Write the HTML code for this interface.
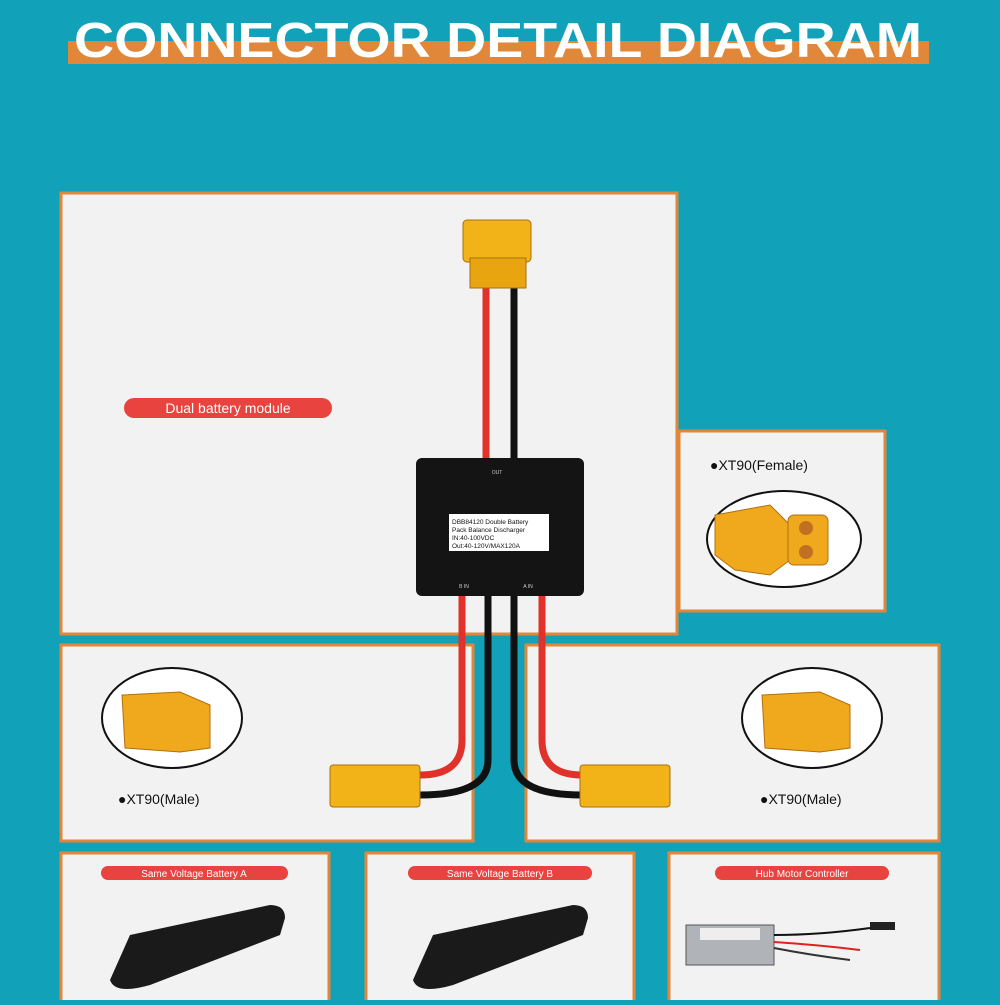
<!DOCTYPE html>
<html><head><style>
body{margin:0;width:1000px;height:1000px;overflow:hidden;background:#11a1b8;font-family:"Liberation Sans",sans-serif}
</style></head><body>
<svg width="1000" height="1000" viewBox="0 0 1000 1000" xmlns="http://www.w3.org/2000/svg">
<rect width="1000" height="1000" fill="#11a1b8"/>
<rect x="68" y="41" width="861" height="23" fill="#e0873a"/>
<text x="498" y="57" text-anchor="middle" font-family="Liberation Sans Narrow, Liberation Sans, sans-serif" font-weight="bold" font-size="49" fill="#fff" textLength="848" lengthAdjust="spacingAndGlyphs">CONNECTOR DETAIL DIAGRAM</text>
<g fill="#f2f2f2" stroke="#e0873a" stroke-width="3">
<rect x="61" y="193" width="616" height="441"/>
<rect x="679" y="431" width="206" height="180"/>
<rect x="61" y="645" width="412" height="196"/>
<rect x="526" y="645" width="413" height="196"/>
<rect x="61" y="853" width="268" height="150"/>
<rect x="366" y="853" width="268" height="150"/>
<rect x="669" y="853" width="270" height="150"/>
</g>
<!-- labels -->
<rect x="124" y="398" width="208" height="20" rx="10" fill="#e8433f"/>
<text x="228" y="413" text-anchor="middle" font-size="14" fill="#fff">Dual battery module</text>
<rect x="101" y="866" width="187" height="14" rx="7" fill="#e8433f"/>
<text x="194" y="877" text-anchor="middle" font-size="10" fill="#fff">Same Voltage Battery A</text>
<rect x="408" y="866" width="184" height="14" rx="7" fill="#e8433f"/>
<text x="500" y="877" text-anchor="middle" font-size="10" fill="#fff">Same Voltage Battery B</text>
<rect x="715" y="866" width="174" height="14" rx="7" fill="#e8433f"/>
<text x="802" y="877" text-anchor="middle" font-size="10" fill="#fff">Hub Motor Controller</text>
<text x="710" y="470" font-size="14" fill="#111">●XT90(Female)</text>
<text x="118" y="804" font-size="14" fill="#111">●XT90(Male)</text>
<text x="760" y="804" font-size="14" fill="#111">●XT90(Male)</text>
<!-- circles -->
<g fill="#fff" stroke="#111" stroke-width="2">
<ellipse cx="784" cy="539" rx="77" ry="48"/>
<ellipse cx="172" cy="718" rx="70" ry="50"/>
<ellipse cx="812" cy="718" rx="70" ry="50"/>
</g>
<g fill="#f0a81c" stroke="#b07010" stroke-width="1">
<path d="M715 515 L770 505 L790 525 L790 560 L770 575 L735 570 L715 555Z"/>
<rect x="788" y="515" width="40" height="50" rx="6"/>
<path d="M122 695 L180 692 L210 705 L210 748 L180 752 L125 748Z"/>
<path d="M762 695 L820 692 L850 705 L850 748 L820 752 L765 748Z"/>
</g>
<circle cx="806" cy="528" r="7" fill="#c07020"/><circle cx="806" cy="552" r="7" fill="#c07020"/>
<!-- wires -->
<g fill="none" stroke-width="7">
<path d="M486 280 V460" stroke="#e0312a"/>
<path d="M514 280 V460" stroke="#111"/>
<path d="M462 595 V740 Q462 775 420 775" stroke="#e0312a"/>
<path d="M488 595 V760 Q488 795 420 795" stroke="#111"/>
<path d="M514 595 V760 Q514 795 582 795" stroke="#111"/>
<path d="M542 595 V740 Q542 775 582 775" stroke="#e0312a"/>
</g>
<!-- XT90 out -->
<rect x="463" y="220" width="68" height="42" rx="4" fill="#f2b318" stroke="#a87010"/>
<rect x="470" y="258" width="56" height="30" fill="#e8a510" stroke="#a87010"/>
<!-- side connectors -->
<rect x="330" y="765" width="90" height="42" rx="3" fill="#f2b318" stroke="#a87010"/>
<rect x="580" y="765" width="90" height="42" rx="3" fill="#f2b318" stroke="#a87010"/>
<!-- module -->
<rect x="416" y="458" width="168" height="138" rx="6" fill="#141414"/>
<rect x="449" y="514" width="100" height="37" fill="#fff"/>
<text x="452" y="524" font-size="6.5" fill="#111">DBB84120 Double Battery</text>
<text x="452" y="532" font-size="6.5" fill="#111">Pack Balance Discharger</text>
<text x="452" y="540" font-size="6.5" fill="#111">IN:40-100VDC</text>
<text x="452" y="548" font-size="6.5" fill="#111">Out:40-120V/MAX120A</text>
<text x="497" y="474" font-size="5" fill="#ccc" text-anchor="middle">OUT</text>
<text x="464" y="588" font-size="5" fill="#ccc" text-anchor="middle">B IN</text>
<text x="528" y="588" font-size="5" fill="#ccc" text-anchor="middle">A IN</text>
<!-- batteries -->
<g fill="#1a1a1a">
<path d="M110 980 L130 935 L270 905 Q285 905 285 918 L280 935 L150 985 Q115 995 110 980Z"/>
<path d="M413 980 L433 935 L573 905 Q588 905 588 918 L583 935 L453 985 Q418 995 413 980Z"/>
</g>
<!-- controller -->
<rect x="686" y="925" width="88" height="40" fill="#b0b4b8" stroke="#555"/>
<rect x="700" y="928" width="60" height="12" fill="#eee"/>
<g fill="none" stroke-width="2">
<path d="M774 935 Q820 935 870 928" stroke="#111"/>
<path d="M774 942 Q820 945 860 950" stroke="#d22"/>
<path d="M774 948 Q810 955 850 960" stroke="#333"/>
</g>
<rect x="870" y="922" width="25" height="8" fill="#222"/>
</svg>
</body></html>
